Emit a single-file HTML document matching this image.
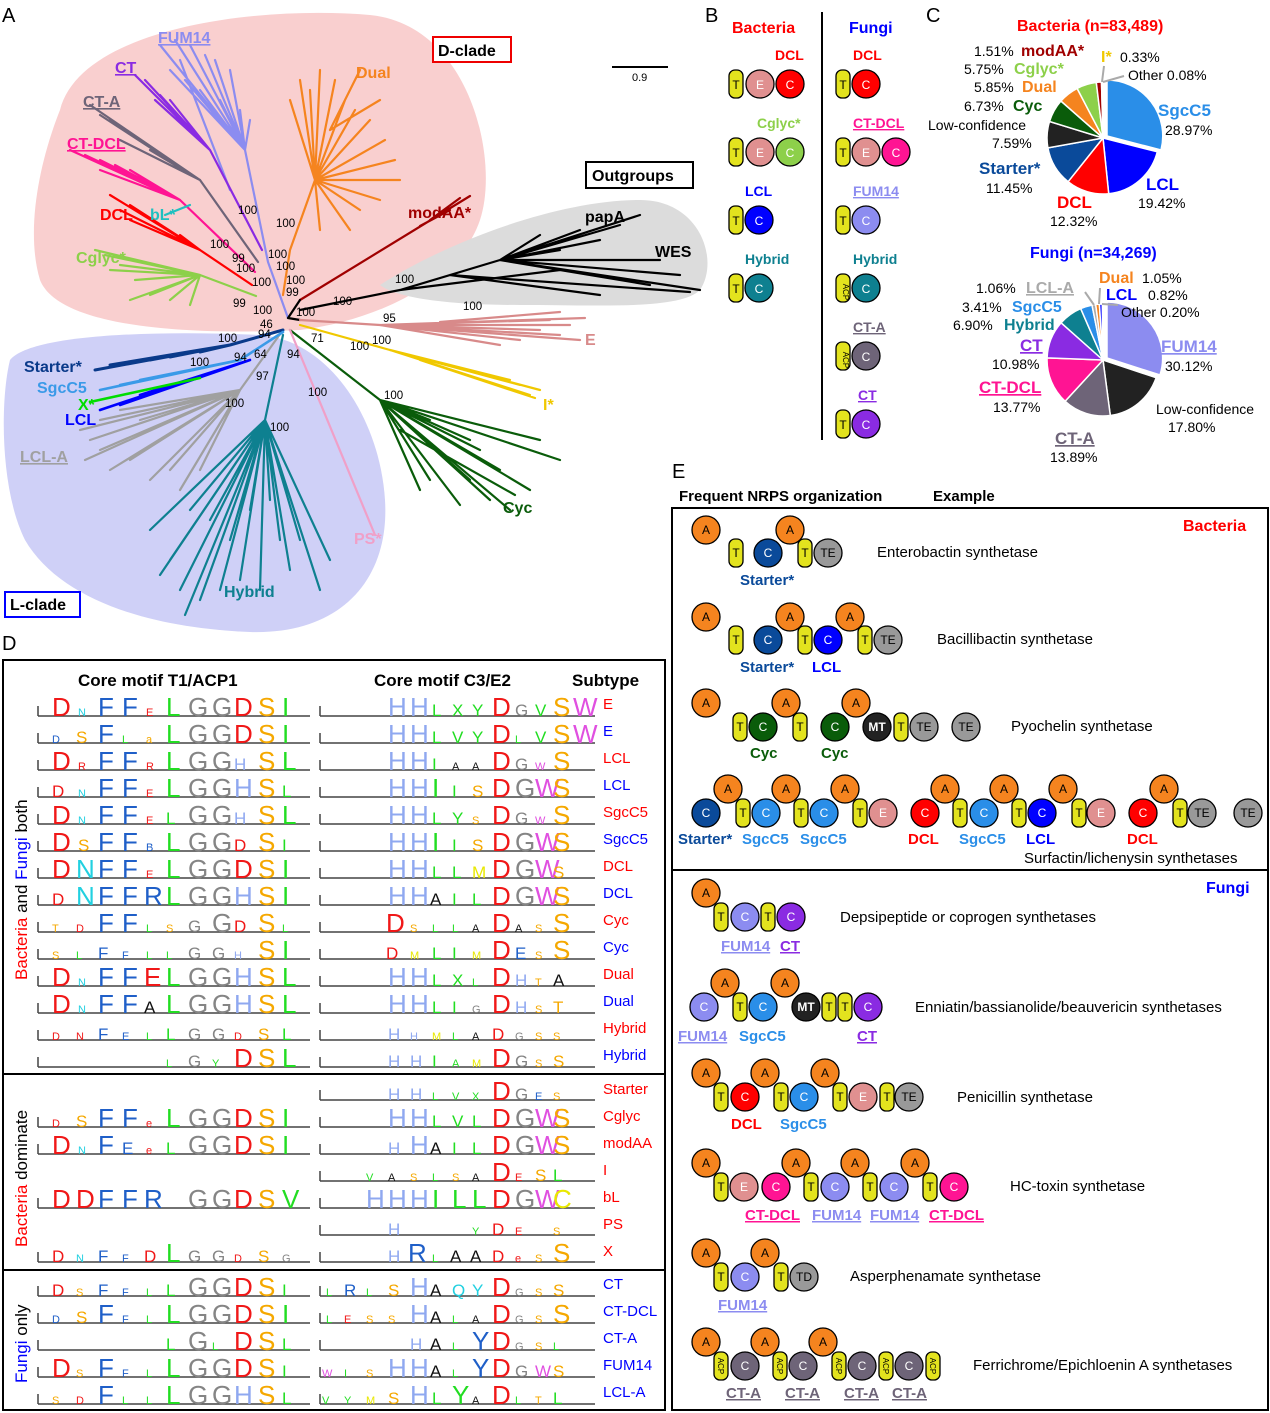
<!DOCTYPE html>
<html><head><meta charset="utf-8"><style>
html,body{margin:0;padding:0;background:#fff}
svg{display:block;font-family:"Liberation Sans",sans-serif}
.a{fill:#f5841f;stroke:#000;stroke-width:1.3}
.t{fill:#e3e31e;stroke:#000;stroke-width:1.3}
.lg text{font-size:26px}
.r{fill:#f01818}.b{fill:#1f5fc8}.g{fill:#858585}.o{fill:#f5a800}.l{fill:#22dd22}.h{fill:#8fa8f0}.m{fill:#e050e0}.k{fill:#111}.c{fill:#22d0e0}.y{fill:#e8e800}
.s{font-size:11px}.M{font-size:17px}
.bs{font-size:11.5px}
.cl{font-weight:bold;font-size:16px}
.pl{font-size:14px}
</style></head><body>
<svg width="1270" height="1413" viewBox="0 0 1270 1413" xmlns="http://www.w3.org/2000/svg">
<!-- Panel letters -->
<g font-size="20"><text x="2" y="22">A</text><text x="705" y="22">B</text><text x="926" y="22">C</text><text x="2" y="650">D</text><text x="672" y="478">E</text></g>

<!-- ===== Panel A tree ===== -->
<path d="M60,110 C80,30 250,5 370,15 C470,25 500,160 480,220 C460,280 380,320 300,330 C200,335 60,330 40,280 C25,230 40,160 60,110Z" fill="#f9cfcf"/>
<path d="M380,285 C450,240 560,200 640,200 C700,200 720,260 700,290 C680,310 600,305 520,305 C460,305 400,300 380,285Z" fill="#dcdcdc"/>
<path d="M10,360 C30,335 150,330 260,335 C330,340 380,420 385,500 C390,580 340,635 250,632 C150,628 60,600 25,540 C0,490 0,400 10,360Z" fill="#cfd0f7"/>

<g fill="none" stroke-width="2.2" stroke-linecap="round">
<path stroke="#8c8cf0" d="M288,318L268,262L245,150 M245,150L160,45M245,150L175,40M245,150L190,45M245,150L205,55M245,150L215,60M245,150L230,70M245,150L200,90M245,150L185,80M245,150L170,70M245,150L220,100M245,150L240,110M245,150L250,120M230,190L180,60"/>
<path stroke="#8a2be2" d="M262,250L210,150 M210,150L135,75M210,150L145,80M210,150L150,90M210,150L160,95M210,150L170,100M210,150L155,100"/>
<path stroke="#6e6478" d="M258,262L200,180 M200,180L90,105M200,180L100,115M200,180L110,120M200,180L125,130M200,180L140,140M200,180L150,150M200,180L120,140"/>
<path stroke="#ff1493" d="M255,272L180,200 M180,200L70,150M180,200L85,155M180,200L100,160M180,200L115,165M180,200L130,170M180,200L100,170"/>
<path stroke="#ff0000" d="M252,285L200,250 M200,250L110,195M200,250L130,205M200,250L145,215M200,250L160,225M200,250L180,235M200,250L130,220M200,250L120,210"/>
<path stroke="#20c0c0" d="M165,215L190,205"/>
<path stroke="#8dd04a" d="M256,296L200,275 M200,275L105,255M200,275L120,265M200,275L135,280M200,275L150,295M200,275L170,300M200,275L190,305M200,275L130,300M200,275L110,270M200,275L95,250"/>
<path stroke="#f5841f" d="M283,295L290,250L315,180 M315,180L290,100M315,180L300,80M315,180L320,70M315,180L335,80M315,180L345,100M315,180L355,110M315,180L370,120M315,180L385,140M315,180L395,160M315,180L400,180M315,180L380,200M315,180L360,210M315,180L350,230M315,180L320,230M315,180L310,90M330,130L380,100M330,130L360,70"/>
<path stroke="#a00000" d="M300,300L470,196M420,226L450,210M430,220L460,198"/>
<path stroke="#000" d="M288,318L300,300M288,318L300,320M300,310L400,290L500,260 M500,260L640,215M500,260L620,225M500,260L600,240M500,260L660,260M500,260L680,275M500,260L700,290M500,260L650,285M500,260L560,250M500,260L540,235M500,260L580,230M450,275L600,295M450,275L690,292M400,290L560,270"/>
<path stroke="#d88a8a" d="M300,320L380,325 M380,325L585,318M380,325L570,325M380,325L560,335M380,325L540,330M380,325L520,340M380,325L500,345M380,325L580,340M380,325L550,320M440,322L560,312"/>
<path stroke="#f0c800" d="M300,325L390,350 M390,350L540,390M390,350L530,395M390,350L520,385M390,350L510,380M390,350L500,378M420,360L535,398"/>
<path stroke="#0a5c0a" d="M290,330L380,400 M380,400L450,460M380,400L470,480M380,400L490,500M380,400L510,510M380,400L530,490M380,400L560,460M380,400L540,440M380,400L500,470M380,400L480,450M380,400L470,440M380,400L430,420M380,400L420,490M380,400L430,480M400,430L515,495M380,400L460,505"/>
<path stroke="#f0a0c8" d="M290,330L375,535"/>
<path stroke="#0e8090" d="M283,335L265,420 M265,420L150,530M265,420L170,560M265,420L180,590M265,420L200,600M265,420L220,590M265,420L240,580M265,420L260,590M265,420L290,570M265,420L320,590M265,420L330,560M265,420L300,540M265,420L280,540M265,420L230,540M265,420L190,510M265,420L210,520M265,420L250,510M265,420L270,500M265,420L185,615M265,420L160,575"/>
<path stroke="#a0a0a0" d="M283,330L240,390 M240,390L80,430M240,390L90,440M240,390L100,450M240,390L110,470M240,390L130,460M240,390L150,480M240,390L170,470M240,390L180,490M240,390L200,470M240,390L140,420M240,390L120,410M240,390L100,420M240,390L85,460"/>
<path stroke="#0a3a8a" stroke-width="3" d="M283,330L230,345 M230,345L95,370M230,345L110,365M230,345L130,362M230,345L150,360M230,345L170,357M230,345L200,352"/>
<path stroke="#3a9ae8" stroke-width="2.6" d="M283,332L240,360 M240,360L100,390M240,360L120,385M240,360L140,380M240,360L170,375"/>
<path stroke="#0000ff" stroke-width="2.6" d="M250,360L100,410M250,360L120,405M250,360L140,395"/>
<path stroke="#00dd00" stroke-width="2.6" d="M200,378L90,402"/>
</g>
<g class="bs" fill="#000">
<text x="238" y="214">100</text><text x="276" y="227">100</text><text x="210" y="248">100</text><text x="232" y="262">99</text><text x="268" y="258">100</text><text x="236" y="272">100</text><text x="276" y="270">100</text><text x="252" y="286">100</text><text x="286" y="284">100</text><text x="286" y="296">99</text><text x="233" y="307">99</text><text x="253" y="314">100</text><text x="296" y="316">100</text><text x="260" y="328">46</text><text x="258" y="338">94</text><text x="218" y="342">100</text><text x="234" y="361">94</text><text x="254" y="358">64</text><text x="287" y="358">94</text><text x="311" y="342">71</text><text x="190" y="366">100</text><text x="256" y="380">97</text><text x="225" y="407">100</text><text x="270" y="431">100</text><text x="308" y="396">100</text><text x="333" y="305">100</text><text x="383" y="322">95</text><text x="395" y="283">100</text><text x="463" y="310">100</text><text x="350" y="350">100</text><text x="372" y="344">100</text><text x="384" y="399">100</text>
</g>
<g class="cl">
<text x="158" y="43" fill="#8c8cf0" text-decoration="underline">FUM14</text>
<text x="115" y="73" fill="#8a2be2" text-decoration="underline">CT</text>
<text x="83" y="107" fill="#6e6478" text-decoration="underline">CT-A</text>
<text x="67" y="149" fill="#ff1493" text-decoration="underline">CT-DCL</text>
<text x="100" y="220" fill="#ff0000">DCL</text><text x="150" y="220" fill="#20c0c0">bL*</text>
<text x="76" y="263" fill="#8dd04a">Cglyc*</text>
<text x="356" y="78" fill="#f5841f">Dual</text>
<text x="408" y="218" fill="#a00000">modAA*</text>
<text x="585" y="222" fill="#000">papA</text><text x="655" y="257" fill="#000">WES</text>
<text x="585" y="345" fill="#d88a8a">E</text>
<text x="543" y="410" fill="#f0c800">I*</text>
<text x="503" y="513" fill="#0a5c0a">Cyc</text>
<text x="354" y="544" fill="#f0a0c8">PS*</text>
<text x="224" y="597" fill="#0e8090">Hybrid</text>
<text x="20" y="462" fill="#a0a0a0" text-decoration="underline">LCL-A</text>
<text x="24" y="372" fill="#0a3a8a">Starter*</text>
<text x="37" y="393" fill="#3a9ae8">SgcC5</text>
<text x="78" y="410" fill="#00dd00">X*</text>
<text x="65" y="425" fill="#0000ff">LCL</text>
</g>
<rect x="433" y="37" width="78" height="25" fill="#fff" stroke="#e00" stroke-width="2"/><text x="438" y="56" class="cl">D-clade</text>
<rect x="586" y="162" width="107" height="26" fill="#fff" stroke="#000" stroke-width="2"/><text x="592" y="181" class="cl">Outgroups</text>
<rect x="5" y="592" width="75" height="25" fill="#fff" stroke="#00f" stroke-width="2"/><text x="10" y="610" class="cl">L-clade</text>
<line x1="612" y1="67" x2="668" y2="67" stroke="#000" stroke-width="2"/><text x="632" y="81" font-size="11">0.9</text>

<!-- ===== Panel B ===== -->
<line x1="822" y1="12" x2="822" y2="440" stroke="#000" stroke-width="2"/>
<text x="732" y="33" fill="#f00" class="cl" font-size="17">Bacteria</text>
<text x="849" y="33" fill="#00f" class="cl" font-size="17">Fungi</text>
<g font-size="14" font-weight="bold">
<text x="775" y="60" fill="#f00">DCL</text><text x="757" y="128" fill="#8dd04a">Cglyc*</text><text x="745" y="196" fill="#00f">LCL</text><text x="745" y="264" fill="#0e8090">Hybrid</text>
<text x="853" y="60" fill="#f00">DCL</text><text x="853" y="128" fill="#ff1493" text-decoration="underline">CT-DCL</text><text x="853" y="196" fill="#8c8cf0" text-decoration="underline">FUM14</text><text x="853" y="264" fill="#0e8090">Hybrid</text><text x="853" y="332" fill="#6e6478" text-decoration="underline">CT-A</text><text x="858" y="400" fill="#8a2be2" text-decoration="underline">CT</text>
</g>
<g stroke="#000" stroke-width="1.3" font-size="12" text-anchor="middle">
<rect x="729" y="70" width="14" height="28" rx="6" class="t"/><circle cx="760" cy="84" r="14" fill="#e09090"/><circle cx="790" cy="84" r="14" fill="#f00"/>
<rect x="729" y="138" width="14" height="28" rx="6" class="t"/><circle cx="760" cy="152" r="14" fill="#e09090"/><circle cx="790" cy="152" r="14" fill="#8dd04a"/>
<rect x="729" y="206" width="14" height="28" rx="6" class="t"/><circle cx="759" cy="220" r="14" fill="#00f"/>
<rect x="729" y="274" width="14" height="28" rx="6" class="t"/><circle cx="759" cy="288" r="14" fill="#0e8090"/>
<rect x="836" y="70" width="14" height="28" rx="6" class="t"/><circle cx="866" cy="84" r="14" fill="#f00"/>
<rect x="836" y="138" width="14" height="28" rx="6" class="t"/><circle cx="866" cy="152" r="14" fill="#e09090"/><circle cx="896" cy="152" r="14" fill="#ff1493"/>
<rect x="836" y="206" width="14" height="28" rx="6" class="t"/><circle cx="866" cy="220" r="14" fill="#8c8cf0"/>
<rect x="836" y="274" width="14" height="28" rx="6" class="t"/><circle cx="866" cy="288" r="14" fill="#0e8090"/>
<rect x="836" y="342" width="14" height="28" rx="6" class="t"/><circle cx="866" cy="356" r="14" fill="#6e6478"/>
<rect x="836" y="410" width="14" height="28" rx="6" class="t"/><circle cx="866" cy="424" r="14" fill="#8a2be2"/>
</g>
<g font-size="12" fill="#fff" text-anchor="middle">
<text x="736" y="89" fill="#000">T</text><text x="760" y="89">E</text><text x="790" y="89">C</text>
<text x="736" y="157" fill="#000">T</text><text x="760" y="157">E</text><text x="790" y="157">C</text>
<text x="736" y="225" fill="#000">T</text><text x="759" y="225">C</text>
<text x="736" y="293" fill="#000">T</text><text x="759" y="293">C</text>
<text x="843" y="89" fill="#000">T</text><text x="866" y="89">C</text>
<text x="843" y="157" fill="#000">T</text><text x="866" y="157">E</text><text x="896" y="157">C</text>
<text x="843" y="225" fill="#000">T</text><text x="866" y="225">C</text>
<text x="847" y="288" fill="#000" font-size="8" transform="rotate(90 843 288)">ACP</text><text x="866" y="293">C</text>
<text x="847" y="356" fill="#000" font-size="8" transform="rotate(90 843 356)">ACP</text><text x="866" y="361">C</text>
<text x="843" y="429" fill="#000">T</text><text x="866" y="429">C</text>
</g>

<!-- ===== Panel C ===== -->
<text x="1017" y="31" fill="#f00" class="cl" font-size="17">Bacteria (n=83,489)</text>
<g stroke="#fff" stroke-width="1.5">
<path d="M1107,136L1107,80A56,56 0 0 1 1161,150Z" fill="#2a8ee8"/>
<path d="M1103,138L1157.3,151.8A56,56 0 0 1 1108.7,193.7Z" fill="#0000ff"/>
<path d="M1103,138L1108.7,193.7A56,56 0 0 1 1068.1,181.7Z" fill="#f00"/>
<path d="M1103,138L1068.1,181.7A56,56 0 0 1 1047.9,147.9Z" fill="#0a4a9a"/>
<path d="M1103,138L1047.9,147.9A56,56 0 0 1 1049.5,121.5Z" fill="#222"/>
<path d="M1103,138L1049.5,121.5A56,56 0 0 1 1060.9,101Z" fill="#0a5c0a"/>
<path d="M1103,138L1060.9,101A56,56 0 0 1 1077.1,88.4Z" fill="#f5841f"/>
<path d="M1103,138L1077.1,88.4A56,56 0 0 1 1096.3,82.4Z" fill="#8dd04a"/>
<path d="M1103,138L1096.3,82.4A56,56 0 0 1 1101.5,82Z" fill="#a00000"/>
<path d="M1103,138L1101.5,82A56,56 0 0 1 1103,82Z" fill="#f0c800"/>
</g>
<g class="pl">
<text x="974" y="56">1.51%</text><text x="1021" y="56" fill="#a00000" font-weight="bold" font-size="16">modAA*</text>
<text x="964" y="74">5.75%</text><text x="1014" y="74" fill="#8dd04a" font-weight="bold" font-size="16">Cglyc*</text>
<text x="974" y="92">5.85%</text><text x="1022" y="92" fill="#f5841f" font-weight="bold" font-size="16">Dual</text>
<text x="964" y="111">6.73%</text><text x="1013" y="111" fill="#0a5c0a" font-weight="bold" font-size="16">Cyc</text>
<text x="928" y="130">Low-confidence</text><text x="992" y="148">7.59%</text>
<text x="979" y="174" fill="#0a4a9a" font-weight="bold" font-size="17">Starter*</text><text x="986" y="193">11.45%</text>
<text x="1057" y="208" fill="#f00" font-weight="bold" font-size="17">DCL</text><text x="1050" y="226">12.32%</text>
<text x="1146" y="190" fill="#00f" font-weight="bold" font-size="17">LCL</text><text x="1138" y="208">19.42%</text>
<text x="1158" y="116" fill="#2a8ee8" font-weight="bold" font-size="17">SgcC5</text><text x="1165" y="135">28.97%</text>
<text x="1101" y="62" fill="#f0c800" font-weight="bold" font-size="16">I*</text><text x="1120" y="62">0.33%</text>
<text x="1128" y="80">Other  0.08%</text>
</g>
<g stroke="#aaa" stroke-width="2"><line x1="1102" y1="82" x2="1104" y2="66"/><line x1="1103" y1="82" x2="1124" y2="76"/></g>

<text x="1030" y="258" fill="#00f" class="cl" font-size="17">Fungi (n=34,269)</text>
<g stroke="#fff" stroke-width="1.5">
<path d="M1107,358L1107,302A56,56 0 0 1 1160,375Z" fill="#8c8cf0"/>
<path d="M1103,360L1156.1,377.7A56,56 0 0 1 1110.3,415.5Z" fill="#222"/>
<path d="M1103,360L1110.3,415.5A56,56 0 0 1 1065.1,401.3Z" fill="#6e6478"/>
<path d="M1103,360L1065.1,401.3A56,56 0 0 1 1047.1,357.9Z" fill="#ff1493"/>
<path d="M1103,360L1047.1,357.9A56,56 0 0 1 1061.1,322.8Z" fill="#8a2be2"/>
<path d="M1103,360L1061.1,322.8A56,56 0 0 1 1080.7,308.6Z" fill="#0e8090"/>
<path d="M1103,360L1080.7,308.6A56,56 0 0 1 1092,305.1Z" fill="#2a8ee8"/>
<path d="M1103,360L1092,305.1A56,56 0 0 1 1095.7,304.5Z" fill="#aaa"/>
<path d="M1103,360L1095.7,304.5A56,56 0 0 1 1099.4,304.1Z" fill="#f5841f"/>
<path d="M1103,360L1099.4,304.1A56,56 0 0 1 1102.3,304Z" fill="#00f"/>
</g>
<g stroke="#aaa" stroke-width="2"><line x1="1094" y1="305" x2="1085" y2="292"/><line x1="1099" y1="304" x2="1100" y2="288"/><line x1="1102" y1="304" x2="1118" y2="305"/></g>
<g class="pl">
<text x="1099" y="283" fill="#f5841f" font-weight="bold" font-size="16">Dual</text><text x="1142" y="283">1.05%</text>
<text x="976" y="293">1.06%</text><text x="1026" y="293" fill="#aaa" font-weight="bold" font-size="16" text-decoration="underline">LCL-A</text>
<text x="1106" y="300" fill="#00f" font-weight="bold" font-size="16">LCL</text><text x="1148" y="300">0.82%</text>
<text x="962" y="312">3.41%</text><text x="1012" y="312" fill="#2a8ee8" font-weight="bold" font-size="16">SgcC5</text>
<text x="1121" y="317">Other 0.20%</text>
<text x="953" y="330">6.90%</text><text x="1004" y="330" fill="#0e8090" font-weight="bold" font-size="16">Hybrid</text>
<text x="1020" y="351" fill="#8a2be2" font-weight="bold" font-size="17" text-decoration="underline">CT</text><text x="992" y="369">10.98%</text>
<text x="979" y="393" fill="#ff1493" font-weight="bold" font-size="17" text-decoration="underline">CT-DCL</text><text x="993" y="412">13.77%</text>
<text x="1055" y="444" fill="#6e6478" font-weight="bold" font-size="17" text-decoration="underline">CT-A</text><text x="1050" y="462">13.89%</text>
<text x="1161" y="352" fill="#8c8cf0" font-weight="bold" font-size="17" text-decoration="underline">FUM14</text><text x="1165" y="371">30.12%</text>
<text x="1156" y="414">Low-confidence</text><text x="1168" y="432">17.80%</text>
</g>

<!-- ===== Panel D ===== -->
<rect x="3" y="660" width="662" height="750" fill="none" stroke="#000" stroke-width="2"/>
<line x1="3" y1="1074" x2="665" y2="1074" stroke="#000" stroke-width="2"/>
<line x1="3" y1="1270" x2="665" y2="1270" stroke="#000" stroke-width="2"/>
<g font-weight="bold" font-size="17"><text x="78" y="686">Core motif T1/ACP1</text><text x="374" y="686">Core motif C3/E2</text><text x="572" y="686">Subtype</text></g>
<g font-size="17">
<text transform="translate(27 980) rotate(-90)"><tspan fill="#f00">Bacteria</tspan> and <tspan fill="#00f">Fungi</tspan> both</text>
<text transform="translate(27 1247) rotate(-90)"><tspan fill="#f00">Bacteria</tspan> dominate</text>
<text transform="translate(27 1383) rotate(-90)"><tspan fill="#00f">Fungi</tspan> only</text>
</g>
<!-- axes -->
<g stroke="#444" stroke-width="1.5" fill="none">
<path d="M38,716H310M38,706V716M320,716H595M320,706V716 M38,743H310M38,733V743M320,743H595M320,733V743 M38,770H310M38,760V770M320,770H595M320,760V770 M38,797H310M38,787V797M320,797H595M320,787V797 M38,824H310M38,814V824M320,824H595M320,814V824 M38,851H310M38,841V851M320,851H595M320,841V851 M38,878H310M38,868V878M320,878H595M320,868V878 M38,905H310M38,895V905M320,905H595M320,895V905 M38,932H310M38,922V932M320,932H595M320,922V932 M38,959H310M38,949V959M320,959H595M320,949V959 M38,986H310M38,976V986M320,986H595M320,976V986 M38,1013H310M38,1003V1013M320,1013H595M320,1003V1013 M38,1040H310M38,1030V1040M320,1040H595M320,1030V1040 M38,1067H310M38,1057V1067M320,1067H595M320,1057V1067
M320,1100H595M320,1090V1100 M38,1127H310M38,1117V1127M320,1127H595M320,1117V1127 M38,1154H310M38,1144V1154M320,1154H595M320,1144V1154 M320,1181H595M320,1171V1181 M38,1208H310M38,1198V1208M320,1208H595M320,1198V1208 M320,1235H595M320,1225V1235 M38,1262H310M38,1252V1262M320,1262H595M320,1252V1262
M38,1296H310M38,1286V1296M320,1296H595M320,1286V1296 M38,1323H310M38,1313V1323M320,1323H595M320,1313V1323 M38,1350H310M38,1340V1350M320,1350H595M320,1340V1350 M38,1377H310M38,1367V1377M320,1377H595M320,1367V1377 M38,1404H310M38,1394V1404M320,1404H595M320,1394V1404"/>
</g>
<g class="lg">
<!-- E red -->
<text y="716"><tspan x="52" class="r">D</tspan><tspan x="78" class="c s">N</tspan><tspan x="98" class="b">F</tspan><tspan x="122" class="b">F</tspan><tspan x="146" class="r s">E</tspan><tspan x="166" class="l">L</tspan><tspan x="188" class="g">G</tspan><tspan x="212" class="g">G</tspan><tspan x="234" class="r">D</tspan><tspan x="258" class="o">S</tspan><tspan x="282" class="l">I</tspan>
<tspan x="388" class="h">H</tspan><tspan x="410" class="h">H</tspan><tspan x="432" class="l M">L</tspan><tspan x="452" class="l M">X</tspan><tspan x="472" class="l M">Y</tspan><tspan x="492" class="r">D</tspan><tspan x="515" class="g M">G</tspan><tspan x="535" class="l M">V</tspan><tspan x="553" class="o">S</tspan><tspan x="573" class="m">W</tspan></text>
<text y="743"><tspan x="52" class="b s">D</tspan><tspan x="76" class="o M">S</tspan><tspan x="98" class="b">F</tspan><tspan x="122" class="l s">L</tspan><tspan x="146" class="o s">a</tspan><tspan x="166" class="l">L</tspan><tspan x="188" class="g">G</tspan><tspan x="212" class="g">G</tspan><tspan x="234" class="r">D</tspan><tspan x="258" class="o">S</tspan><tspan x="282" class="l">I</tspan>
<tspan x="388" class="h">H</tspan><tspan x="410" class="h">H</tspan><tspan x="432" class="l M">L</tspan><tspan x="452" class="l M">V</tspan><tspan x="472" class="l M">Y</tspan><tspan x="492" class="r">D</tspan><tspan x="515" class="l s">L</tspan><tspan x="535" class="l M">V</tspan><tspan x="553" class="o">S</tspan><tspan x="573" class="m">W</tspan></text>
<text y="770"><tspan x="52" class="r">D</tspan><tspan x="78" class="r s">R</tspan><tspan x="98" class="b">F</tspan><tspan x="122" class="b">F</tspan><tspan x="146" class="r s">R</tspan><tspan x="166" class="l">L</tspan><tspan x="188" class="g">G</tspan><tspan x="212" class="g">G</tspan><tspan x="234" class="h M">H</tspan><tspan x="258" class="o">S</tspan><tspan x="282" class="l">L</tspan>
<tspan x="388" class="h">H</tspan><tspan x="410" class="h">H</tspan><tspan x="432" class="l M">I</tspan><tspan x="452" class="k s">A</tspan><tspan x="472" class="k s">A</tspan><tspan x="492" class="r">D</tspan><tspan x="515" class="g M">G</tspan><tspan x="535" class="m s">W</tspan><tspan x="553" class="o">S</tspan></text>
<text y="797"><tspan x="52" class="r M">D</tspan><tspan x="78" class="c s">N</tspan><tspan x="98" class="b">F</tspan><tspan x="122" class="b">F</tspan><tspan x="146" class="r s">E</tspan><tspan x="166" class="l">L</tspan><tspan x="188" class="g">G</tspan><tspan x="212" class="g">G</tspan><tspan x="234" class="h">H</tspan><tspan x="258" class="o">S</tspan><tspan x="282" class="l M">L</tspan>
<tspan x="388" class="h">H</tspan><tspan x="410" class="h">H</tspan><tspan x="432" class="l">I</tspan><tspan x="452" class="l M">I</tspan><tspan x="472" class="o M">S</tspan><tspan x="492" class="r">D</tspan><tspan x="515" class="g">G</tspan><tspan x="535" class="m">W</tspan><tspan x="553" class="o">S</tspan></text>
<text y="824"><tspan x="52" class="r">D</tspan><tspan x="78" class="c s">N</tspan><tspan x="98" class="b">F</tspan><tspan x="122" class="b">F</tspan><tspan x="146" class="r s">E</tspan><tspan x="166" class="l M">L</tspan><tspan x="188" class="g">G</tspan><tspan x="212" class="g">G</tspan><tspan x="234" class="h M">H</tspan><tspan x="258" class="o">S</tspan><tspan x="282" class="l">L</tspan>
<tspan x="388" class="h">H</tspan><tspan x="410" class="h">H</tspan><tspan x="432" class="l M">L</tspan><tspan x="452" class="l M">Y</tspan><tspan x="472" class="o s">S</tspan><tspan x="492" class="r">D</tspan><tspan x="515" class="g M">G</tspan><tspan x="535" class="m s">W</tspan><tspan x="553" class="o">S</tspan></text>
<text y="851"><tspan x="52" class="r">D</tspan><tspan x="78" class="o M">S</tspan><tspan x="98" class="b">F</tspan><tspan x="122" class="b">F</tspan><tspan x="146" class="b s">B</tspan><tspan x="166" class="l">L</tspan><tspan x="188" class="g">G</tspan><tspan x="212" class="g">G</tspan><tspan x="234" class="r M">D</tspan><tspan x="258" class="o">S</tspan><tspan x="282" class="l M">I</tspan>
<tspan x="388" class="h">H</tspan><tspan x="410" class="h">H</tspan><tspan x="432" class="l">I</tspan><tspan x="452" class="l M">I</tspan><tspan x="472" class="o M">S</tspan><tspan x="492" class="r">D</tspan><tspan x="515" class="g">G</tspan><tspan x="535" class="m">W</tspan><tspan x="553" class="o">S</tspan></text>
<text y="878"><tspan x="52" class="r">D</tspan><tspan x="76" class="c">N</tspan><tspan x="98" class="b">F</tspan><tspan x="122" class="b">F</tspan><tspan x="146" class="r s">E</tspan><tspan x="166" class="l">L</tspan><tspan x="188" class="g">G</tspan><tspan x="212" class="g">G</tspan><tspan x="234" class="r">D</tspan><tspan x="258" class="o">S</tspan><tspan x="282" class="l">I</tspan>
<tspan x="388" class="h">H</tspan><tspan x="410" class="h">H</tspan><tspan x="432" class="l M">L</tspan><tspan x="452" class="l M">L</tspan><tspan x="472" class="y M">M</tspan><tspan x="492" class="r">D</tspan><tspan x="515" class="g">G</tspan><tspan x="535" class="m">W</tspan><tspan x="553" class="o M">S</tspan></text>
<text y="905"><tspan x="52" class="r M">D</tspan><tspan x="76" class="c">N</tspan><tspan x="98" class="b">F</tspan><tspan x="122" class="b">F</tspan><tspan x="144" class="b">R</tspan><tspan x="166" class="l">L</tspan><tspan x="188" class="g">G</tspan><tspan x="212" class="g">G</tspan><tspan x="234" class="h">H</tspan><tspan x="258" class="o">S</tspan><tspan x="282" class="l">I</tspan>
<tspan x="388" class="h">H</tspan><tspan x="410" class="h">H</tspan><tspan x="430" class="k M">A</tspan><tspan x="452" class="l M">I</tspan><tspan x="472" class="l M">L</tspan><tspan x="492" class="r">D</tspan><tspan x="515" class="g">G</tspan><tspan x="535" class="m">W</tspan><tspan x="553" class="o">S</tspan></text>
<text y="932"><tspan x="52" class="o s">T</tspan><tspan x="76" class="r s">D</tspan><tspan x="98" class="b">F</tspan><tspan x="122" class="b">F</tspan><tspan x="146" class="l s">L</tspan><tspan x="166" class="o s">S</tspan><tspan x="188" class="g M">G</tspan><tspan x="212" class="g">G</tspan><tspan x="234" class="r M">D</tspan><tspan x="258" class="o">S</tspan><tspan x="282" class="l s">L</tspan>
<tspan x="386" class="r">D</tspan><tspan x="410" class="o s">S</tspan><tspan x="432" class="l s">L</tspan><tspan x="452" class="l s">L</tspan><tspan x="472" class="k s">A</tspan><tspan x="492" class="r">D</tspan><tspan x="515" class="k s">A</tspan><tspan x="535" class="o s">S</tspan><tspan x="553" class="o">S</tspan></text>
<text y="959"><tspan x="52" class="o s">S</tspan><tspan x="76" class="l s">L</tspan><tspan x="98" class="b M">F</tspan><tspan x="122" class="b s">F</tspan><tspan x="146" class="l s">L</tspan><tspan x="166" class="l s">L</tspan><tspan x="188" class="g M">G</tspan><tspan x="212" class="g M">G</tspan><tspan x="234" class="h s">H</tspan><tspan x="258" class="o">S</tspan><tspan x="282" class="l">I</tspan>
<tspan x="386" class="r M">D</tspan><tspan x="410" class="y s">M</tspan><tspan x="432" class="l M">L</tspan><tspan x="452" class="l M">I</tspan><tspan x="472" class="y s">M</tspan><tspan x="492" class="r">D</tspan><tspan x="515" class="b M">E</tspan><tspan x="535" class="o s">S</tspan><tspan x="553" class="o">S</tspan></text>
<text y="986"><tspan x="52" class="r">D</tspan><tspan x="78" class="c s">N</tspan><tspan x="98" class="b">F</tspan><tspan x="122" class="b">F</tspan><tspan x="144" class="r">E</tspan><tspan x="166" class="l">L</tspan><tspan x="188" class="g">G</tspan><tspan x="212" class="g">G</tspan><tspan x="234" class="h">H</tspan><tspan x="258" class="o">S</tspan><tspan x="282" class="l">L</tspan>
<tspan x="388" class="h">H</tspan><tspan x="410" class="h">H</tspan><tspan x="432" class="l M">L</tspan><tspan x="452" class="l M">X</tspan><tspan x="472" class="l s">L</tspan><tspan x="492" class="r">D</tspan><tspan x="515" class="h M">H</tspan><tspan x="535" class="o s">T</tspan><tspan x="553" class="k M">A</tspan></text>
<text y="1013"><tspan x="52" class="r">D</tspan><tspan x="78" class="c s">N</tspan><tspan x="98" class="b">F</tspan><tspan x="122" class="b">F</tspan><tspan x="144" class="k M">A</tspan><tspan x="166" class="l">L</tspan><tspan x="188" class="g">G</tspan><tspan x="212" class="g">G</tspan><tspan x="234" class="h">H</tspan><tspan x="258" class="o">S</tspan><tspan x="282" class="l">L</tspan>
<tspan x="388" class="h">H</tspan><tspan x="410" class="h">H</tspan><tspan x="432" class="l M">L</tspan><tspan x="452" class="l M">I</tspan><tspan x="472" class="g s">G</tspan><tspan x="492" class="r">D</tspan><tspan x="515" class="h M">H</tspan><tspan x="535" class="o s">S</tspan><tspan x="553" class="o M">T</tspan></text>
<text y="1040"><tspan x="52" class="r s">D</tspan><tspan x="76" class="r s">N</tspan><tspan x="98" class="b M">F</tspan><tspan x="122" class="b s">E</tspan><tspan x="146" class="l s">L</tspan><tspan x="166" class="l M">L</tspan><tspan x="188" class="g M">G</tspan><tspan x="212" class="g M">G</tspan><tspan x="234" class="r s">D</tspan><tspan x="258" class="o M">S</tspan><tspan x="282" class="l M">L</tspan>
<tspan x="388" class="h M">H</tspan><tspan x="410" class="h s">H</tspan><tspan x="432" class="y s">M</tspan><tspan x="452" class="l s">L</tspan><tspan x="472" class="k s">A</tspan><tspan x="492" class="r M">D</tspan><tspan x="515" class="g s">G</tspan><tspan x="535" class="o s">S</tspan><tspan x="553" class="o s">S</tspan></text>
<text y="1067"><tspan x="166" class="l s">L</tspan><tspan x="188" class="g M">G</tspan><tspan x="212" class="l s">Y</tspan><tspan x="234" class="r">D</tspan><tspan x="258" class="o">S</tspan><tspan x="282" class="l">L</tspan>
<tspan x="388" class="h M">H</tspan><tspan x="410" class="h M">H</tspan><tspan x="432" class="l M">I</tspan><tspan x="452" class="l s">A</tspan><tspan x="472" class="y s">M</tspan><tspan x="492" class="r">D</tspan><tspan x="515" class="g M">G</tspan><tspan x="535" class="o s">S</tspan><tspan x="553" class="o M">S</tspan></text>
<!-- Bacteria dominate -->
<text y="1100"><tspan x="388" class="h M">H</tspan><tspan x="410" class="h M">H</tspan><tspan x="432" class="l s">L</tspan><tspan x="452" class="l s">V</tspan><tspan x="472" class="l s">X</tspan><tspan x="492" class="r">D</tspan><tspan x="515" class="g M">G</tspan><tspan x="535" class="b s">E</tspan><tspan x="553" class="o s">S</tspan></text>
<text y="1127"><tspan x="52" class="r s">D</tspan><tspan x="76" class="o M">S</tspan><tspan x="98" class="b">F</tspan><tspan x="122" class="b">F</tspan><tspan x="146" class="r s">e</tspan><tspan x="166" class="l">L</tspan><tspan x="188" class="g">G</tspan><tspan x="212" class="g">G</tspan><tspan x="234" class="r">D</tspan><tspan x="258" class="o">S</tspan><tspan x="282" class="l">I</tspan>
<tspan x="388" class="h">H</tspan><tspan x="410" class="h">H</tspan><tspan x="432" class="l M">L</tspan><tspan x="452" class="l M">V</tspan><tspan x="472" class="l M">L</tspan><tspan x="492" class="r">D</tspan><tspan x="515" class="g">G</tspan><tspan x="535" class="m">W</tspan><tspan x="553" class="o">S</tspan></text>
<text y="1154"><tspan x="52" class="r">D</tspan><tspan x="78" class="c s">N</tspan><tspan x="98" class="b">F</tspan><tspan x="122" class="b M">E</tspan><tspan x="146" class="r s">e</tspan><tspan x="166" class="l M">L</tspan><tspan x="188" class="g">G</tspan><tspan x="212" class="g">G</tspan><tspan x="234" class="r">D</tspan><tspan x="258" class="o">S</tspan><tspan x="282" class="l">I</tspan>
<tspan x="388" class="h M">H</tspan><tspan x="410" class="h">H</tspan><tspan x="430" class="k M">A</tspan><tspan x="452" class="l M">I</tspan><tspan x="472" class="l M">L</tspan><tspan x="492" class="r">D</tspan><tspan x="515" class="g">G</tspan><tspan x="535" class="m">W</tspan><tspan x="553" class="o">S</tspan></text>
<text y="1181"><tspan x="366" class="l s">V</tspan><tspan x="388" class="k s">A</tspan><tspan x="410" class="o s">S</tspan><tspan x="432" class="l s">L</tspan><tspan x="452" class="o s">S</tspan><tspan x="472" class="k s">A</tspan><tspan x="492" class="r">D</tspan><tspan x="515" class="r s">E</tspan><tspan x="535" class="o M">S</tspan><tspan x="553" class="l M">L</tspan></text>
<text y="1208"><tspan x="52" class="r">D</tspan><tspan x="76" class="r">D</tspan><tspan x="98" class="b">F</tspan><tspan x="122" class="b">F</tspan><tspan x="144" class="b">R</tspan><tspan x="188" class="g">G</tspan><tspan x="212" class="g">G</tspan><tspan x="234" class="r">D</tspan><tspan x="258" class="o">S</tspan><tspan x="282" class="l">V</tspan>
<tspan x="366" class="h">H</tspan><tspan x="388" class="h">H</tspan><tspan x="410" class="h">H</tspan><tspan x="432" class="l">I</tspan><tspan x="452" class="l">L</tspan><tspan x="472" class="l">L</tspan><tspan x="492" class="r">D</tspan><tspan x="515" class="g">G</tspan><tspan x="535" class="m">W</tspan><tspan x="553" class="y">C</tspan></text>
<text y="1235"><tspan x="388" class="h M">H</tspan><tspan x="472" class="l s">Y</tspan><tspan x="492" class="r M">D</tspan><tspan x="515" class="r s">E</tspan><tspan x="553" class="o s">S</tspan></text>
<text y="1262"><tspan x="52" class="r M">D</tspan><tspan x="76" class="c s">N</tspan><tspan x="98" class="b M">F</tspan><tspan x="122" class="b s">F</tspan><tspan x="144" class="r M">D</tspan><tspan x="166" class="l">L</tspan><tspan x="188" class="g M">G</tspan><tspan x="212" class="g M">G</tspan><tspan x="234" class="r s">D</tspan><tspan x="258" class="o M">S</tspan><tspan x="282" class="g s">G</tspan>
<tspan x="388" class="h M">H</tspan><tspan x="408" class="b">R</tspan><tspan x="432" class="l s">L</tspan><tspan x="450" class="k M">A</tspan><tspan x="470" class="k M">A</tspan><tspan x="492" class="r M">D</tspan><tspan x="515" class="r s">e</tspan><tspan x="535" class="o s">S</tspan><tspan x="553" class="o">S</tspan></text>
<!-- Fungi only -->
<text y="1296"><tspan x="52" class="r M">D</tspan><tspan x="76" class="o s">S</tspan><tspan x="98" class="b M">F</tspan><tspan x="122" class="b s">F</tspan><tspan x="146" class="l s">L</tspan><tspan x="166" class="l M">L</tspan><tspan x="188" class="g">G</tspan><tspan x="212" class="g">G</tspan><tspan x="234" class="r">D</tspan><tspan x="258" class="o">S</tspan><tspan x="282" class="l M">I</tspan>
<tspan x="326" class="l s">L</tspan><tspan x="344" class="b M">R</tspan><tspan x="366" class="l s">L</tspan><tspan x="388" class="o M">S</tspan><tspan x="410" class="h">H</tspan><tspan x="430" class="k M">A</tspan><tspan x="452" class="c M">Q</tspan><tspan x="472" class="c M">Y</tspan><tspan x="492" class="r">D</tspan><tspan x="515" class="g s">G</tspan><tspan x="535" class="o s">S</tspan><tspan x="553" class="o M">S</tspan></text>
<text y="1323"><tspan x="52" class="b s">D</tspan><tspan x="76" class="o M">S</tspan><tspan x="98" class="b">F</tspan><tspan x="122" class="b s">F</tspan><tspan x="146" class="l s">L</tspan><tspan x="166" class="l">L</tspan><tspan x="188" class="g">G</tspan><tspan x="212" class="g">G</tspan><tspan x="234" class="r">D</tspan><tspan x="258" class="o">S</tspan><tspan x="282" class="l">I</tspan>
<tspan x="326" class="l s">L</tspan><tspan x="344" class="r s">E</tspan><tspan x="366" class="o s">S</tspan><tspan x="388" class="o s">S</tspan><tspan x="410" class="h">H</tspan><tspan x="430" class="k M">A</tspan><tspan x="452" class="l s">L</tspan><tspan x="472" class="k s">A</tspan><tspan x="492" class="r">D</tspan><tspan x="515" class="g s">G</tspan><tspan x="535" class="o s">S</tspan><tspan x="553" class="o">S</tspan></text>
<text y="1350"><tspan x="166" class="l M">L</tspan><tspan x="188" class="g">G</tspan><tspan x="212" class="l s">L</tspan><tspan x="234" class="r">D</tspan><tspan x="258" class="o">S</tspan><tspan x="282" class="l M">L</tspan>
<tspan x="410" class="h M">H</tspan><tspan x="430" class="k M">A</tspan><tspan x="452" class="l s">L</tspan><tspan x="472" class="b">Y</tspan><tspan x="492" class="r">D</tspan><tspan x="515" class="g s">G</tspan><tspan x="535" class="o s">S</tspan><tspan x="553" class="l s">L</tspan></text>
<text y="1377"><tspan x="52" class="r">D</tspan><tspan x="76" class="o s">S</tspan><tspan x="98" class="b">F</tspan><tspan x="122" class="b s">F</tspan><tspan x="146" class="l s">L</tspan><tspan x="166" class="l">L</tspan><tspan x="188" class="g">G</tspan><tspan x="212" class="g">G</tspan><tspan x="234" class="r">D</tspan><tspan x="258" class="o">S</tspan><tspan x="282" class="l M">I</tspan>
<tspan x="322" class="m s">W</tspan><tspan x="344" class="l s">I</tspan><tspan x="366" class="o s">S</tspan><tspan x="388" class="h">H</tspan><tspan x="410" class="h">H</tspan><tspan x="430" class="k M">A</tspan><tspan x="452" class="l s">L</tspan><tspan x="472" class="b">Y</tspan><tspan x="492" class="r">D</tspan><tspan x="515" class="g M">G</tspan><tspan x="535" class="m M">W</tspan><tspan x="553" class="o M">S</tspan></text>
<text y="1404"><tspan x="52" class="o s">S</tspan><tspan x="76" class="r s">D</tspan><tspan x="98" class="b">F</tspan><tspan x="122" class="l s">L</tspan><tspan x="146" class="l s">L</tspan><tspan x="166" class="l">L</tspan><tspan x="188" class="g">G</tspan><tspan x="212" class="g">G</tspan><tspan x="234" class="h">H</tspan><tspan x="258" class="o">S</tspan><tspan x="282" class="l M">L</tspan>
<tspan x="322" class="l s">V</tspan><tspan x="344" class="l s">Y</tspan><tspan x="366" class="y s">M</tspan><tspan x="388" class="o M">S</tspan><tspan x="410" class="h">H</tspan><tspan x="432" class="l M">L</tspan><tspan x="452" class="l">Y</tspan><tspan x="472" class="k s">A</tspan><tspan x="492" class="r">D</tspan><tspan x="515" class="l s">L</tspan><tspan x="535" class="o s">T</tspan><tspan x="553" class="l M">L</tspan></text>
</g>
<g font-size="15">
<text x="603" y="709" fill="#f00">E</text><text x="603" y="736" fill="#00f">E</text><text x="603" y="763" fill="#f00">LCL</text><text x="603" y="790" fill="#00f">LCL</text><text x="603" y="817" fill="#f00">SgcC5</text><text x="603" y="844" fill="#00f">SgcC5</text><text x="603" y="871" fill="#f00">DCL</text><text x="603" y="898" fill="#00f">DCL</text><text x="603" y="925" fill="#f00">Cyc</text><text x="603" y="952" fill="#00f">Cyc</text><text x="603" y="979" fill="#f00">Dual</text><text x="603" y="1006" fill="#00f">Dual</text><text x="603" y="1033" fill="#f00">Hybrid</text><text x="603" y="1060" fill="#00f">Hybrid</text>
<text x="603" y="1094" fill="#f00">Starter</text><text x="603" y="1121" fill="#f00">Cglyc</text><text x="603" y="1148" fill="#f00">modAA</text><text x="603" y="1175" fill="#f00">I</text><text x="603" y="1202" fill="#f00">bL</text><text x="603" y="1229" fill="#f00">PS</text><text x="603" y="1256" fill="#f00">X</text>
<text x="603" y="1289" fill="#00f">CT</text><text x="603" y="1316" fill="#00f">CT-DCL</text><text x="603" y="1343" fill="#00f">CT-A</text><text x="603" y="1370" fill="#00f">FUM14</text><text x="603" y="1397" fill="#00f">LCL-A</text>
</g>

<!-- ===== Panel E ===== -->
<g font-weight="bold" font-size="15"><text x="679" y="501">Frequent NRPS organization</text><text x="933" y="501">Example</text></g>
<rect x="672" y="508" width="596" height="902" fill="none" stroke="#000" stroke-width="2"/>
<line x1="672" y1="870" x2="1268" y2="870" stroke="#000" stroke-width="2"/>
<text x="1183" y="531" fill="#f00" class="cl" font-size="17">Bacteria</text>
<text x="1206" y="893" fill="#00f" class="cl" font-size="17">Fungi</text>

<g stroke="#000" stroke-width="1.3">
<!-- A domains -->
<g class="a">
<circle cx="706" cy="530" r="14"/><circle cx="790" cy="530" r="14"/>
<circle cx="706" cy="617" r="14"/><circle cx="790" cy="617" r="14"/><circle cx="850" cy="617" r="14"/>
<circle cx="706" cy="703" r="14"/><circle cx="786" cy="703" r="14"/><circle cx="856" cy="703" r="14"/>
<circle cx="728" cy="789" r="14"/><circle cx="786" cy="789" r="14"/><circle cx="845" cy="789" r="14"/><circle cx="945" cy="789" r="14"/><circle cx="1004" cy="789" r="14"/><circle cx="1063" cy="789" r="14"/><circle cx="1164" cy="789" r="14"/>
<circle cx="706" cy="893" r="14"/>
<circle cx="725" cy="983" r="14"/><circle cx="785" cy="983" r="14"/>
<circle cx="706" cy="1073" r="14"/><circle cx="765" cy="1073" r="14"/><circle cx="825" cy="1073" r="14"/>
<circle cx="706" cy="1163" r="14"/><circle cx="796" cy="1163" r="14"/><circle cx="855" cy="1163" r="14"/><circle cx="915" cy="1163" r="14"/>
<circle cx="706" cy="1253" r="14"/><circle cx="765" cy="1253" r="14"/>
<circle cx="706" cy="1342" r="14"/><circle cx="765" cy="1342" r="14"/><circle cx="823" cy="1342" r="14"/>
</g>
<!-- T domains -->
<g class="t">
<rect x="729" y="539" width="14" height="28" rx="6"/><rect x="798" y="539" width="14" height="28" rx="6"/>
<rect x="729" y="626" width="14" height="28" rx="6"/><rect x="798" y="626" width="14" height="28" rx="6"/><rect x="858" y="626" width="14" height="28" rx="6"/>
<rect x="733" y="713" width="14" height="28" rx="6"/><rect x="793" y="713" width="14" height="28" rx="6"/><rect x="894" y="713" width="14" height="28" rx="6"/>
<rect x="736" y="799" width="14" height="28" rx="6"/><rect x="794" y="799" width="14" height="28" rx="6"/><rect x="853" y="799" width="14" height="28" rx="6"/><rect x="953" y="799" width="14" height="28" rx="6"/><rect x="1012" y="799" width="14" height="28" rx="6"/><rect x="1072" y="799" width="14" height="28" rx="6"/><rect x="1173" y="799" width="14" height="28" rx="6"/>
<rect x="714" y="903" width="14" height="28" rx="6"/><rect x="761" y="903" width="14" height="28" rx="6"/>
<rect x="733" y="993" width="14" height="28" rx="6"/><rect x="822" y="993" width="14" height="28" rx="6"/><rect x="838" y="993" width="14" height="28" rx="6"/>
<rect x="714" y="1083" width="14" height="28" rx="6"/><rect x="774" y="1083" width="14" height="28" rx="6"/><rect x="833" y="1083" width="14" height="28" rx="6"/><rect x="880" y="1083" width="14" height="28" rx="6"/>
<rect x="714" y="1173" width="14" height="28" rx="6"/><rect x="804" y="1173" width="14" height="28" rx="6"/><rect x="863" y="1173" width="14" height="28" rx="6"/><rect x="923" y="1173" width="14" height="28" rx="6"/>
<rect x="714" y="1263" width="14" height="28" rx="6"/><rect x="774" y="1263" width="14" height="28" rx="6"/>
<rect x="714" y="1352" width="14" height="28" rx="6"/><rect x="773" y="1352" width="14" height="28" rx="6"/><rect x="832" y="1352" width="14" height="28" rx="6"/><rect x="879" y="1352" width="14" height="28" rx="6"/><rect x="926" y="1352" width="14" height="28" rx="6"/>
</g>
<!-- other domains -->
<circle cx="768" cy="553" r="14" fill="#0a4a9a"/><circle cx="828" cy="553" r="14" fill="#999"/>
<circle cx="768" cy="640" r="14" fill="#0a4a9a"/><circle cx="828" cy="640" r="14" fill="#0000ff"/><circle cx="888" cy="640" r="14" fill="#999"/>
<circle cx="763" cy="727" r="14" fill="#0a5c0a"/><circle cx="835" cy="727" r="14" fill="#0a5c0a"/><circle cx="877" cy="727" r="14" fill="#222"/><circle cx="924" cy="727" r="14" fill="#999"/><circle cx="966" cy="727" r="14" fill="#999"/>
<circle cx="706" cy="813" r="14" fill="#0a4a9a"/><circle cx="766" cy="813" r="14" fill="#2a8ee8"/><circle cx="824" cy="813" r="14" fill="#2a8ee8"/><circle cx="883" cy="813" r="14" fill="#e09090"/><circle cx="925" cy="813" r="14" fill="#f00"/><circle cx="984" cy="813" r="14" fill="#2a8ee8"/><circle cx="1042" cy="813" r="14" fill="#0000ff"/><circle cx="1101" cy="813" r="14" fill="#e09090"/><circle cx="1143" cy="813" r="14" fill="#f00"/><circle cx="1202" cy="813" r="14" fill="#999"/><circle cx="1248" cy="813" r="14" fill="#999"/>
<circle cx="745" cy="917" r="14" fill="#8c8cf0"/><circle cx="791" cy="917" r="14" fill="#8a2be2"/>
<circle cx="704" cy="1007" r="14" fill="#8c8cf0"/><circle cx="763" cy="1007" r="14" fill="#2a8ee8"/><circle cx="806" cy="1007" r="14" fill="#222"/><circle cx="868" cy="1007" r="14" fill="#8a2be2"/>
<circle cx="745" cy="1097" r="14" fill="#f00"/><circle cx="804" cy="1097" r="14" fill="#2a8ee8"/><circle cx="863" cy="1097" r="14" fill="#e09090"/><circle cx="909" cy="1097" r="14" fill="#999"/>
<circle cx="744" cy="1187" r="14" fill="#e09090"/><circle cx="776" cy="1187" r="14" fill="#ff1493"/><circle cx="835" cy="1187" r="14" fill="#8c8cf0"/><circle cx="894" cy="1187" r="14" fill="#8c8cf0"/><circle cx="954" cy="1187" r="14" fill="#ff1493"/>
<circle cx="745" cy="1277" r="14" fill="#8c8cf0"/><circle cx="804" cy="1277" r="14" fill="#999"/>
<circle cx="745" cy="1366" r="14" fill="#6e6478"/><circle cx="803" cy="1366" r="14" fill="#6e6478"/><circle cx="862" cy="1366" r="14" fill="#6e6478"/><circle cx="909" cy="1366" r="14" fill="#6e6478"/>
</g>
<!-- domain letters -->
<g font-size="12" text-anchor="middle">
<g fill="#000">
<text x="706" y="534">A</text><text x="790" y="534">A</text><text x="706" y="621">A</text><text x="790" y="621">A</text><text x="850" y="621">A</text><text x="706" y="707">A</text><text x="786" y="707">A</text><text x="856" y="707">A</text>
<text x="728" y="793">A</text><text x="786" y="793">A</text><text x="845" y="793">A</text><text x="945" y="793">A</text><text x="1004" y="793">A</text><text x="1063" y="793">A</text><text x="1164" y="793">A</text>
<text x="706" y="897">A</text><text x="725" y="987">A</text><text x="785" y="987">A</text><text x="706" y="1077">A</text><text x="765" y="1077">A</text><text x="825" y="1077">A</text>
<text x="706" y="1167">A</text><text x="796" y="1167">A</text><text x="855" y="1167">A</text><text x="915" y="1167">A</text><text x="706" y="1257">A</text><text x="765" y="1257">A</text>
<text x="706" y="1346">A</text><text x="765" y="1346">A</text><text x="823" y="1346">A</text>
<text x="736" y="557">T</text><text x="805" y="557">T</text><text x="736" y="644">T</text><text x="805" y="644">T</text><text x="865" y="644">T</text><text x="740" y="731">T</text><text x="800" y="731">T</text><text x="901" y="731">T</text>
<text x="743" y="817">T</text><text x="801" y="817">T</text><text x="860" y="817">T</text><text x="960" y="817">T</text><text x="1019" y="817">T</text><text x="1079" y="817">T</text><text x="1180" y="817">T</text>
<text x="721" y="921">T</text><text x="768" y="921">T</text><text x="740" y="1011">T</text><text x="829" y="1011">T</text><text x="845" y="1011">T</text>
<text x="721" y="1101">T</text><text x="781" y="1101">T</text><text x="840" y="1101">T</text><text x="887" y="1101">T</text>
<text x="721" y="1191">T</text><text x="811" y="1191">T</text><text x="870" y="1191">T</text><text x="930" y="1191">T</text><text x="721" y="1281">T</text><text x="781" y="1281">T</text>
<text x="828" y="557">TE</text><text x="888" y="644">TE</text><text x="924" y="731">TE</text><text x="966" y="731">TE</text><text x="1202" y="817">TE</text><text x="1248" y="817">TE</text><text x="909" y="1101">TE</text><text x="804" y="1281">TD</text>
</g>
<g fill="#000" font-size="8">
<text transform="translate(718 1366) rotate(90)">ACP</text><text transform="translate(777 1366) rotate(90)">ACP</text><text transform="translate(836 1366) rotate(90)">ACP</text><text transform="translate(883 1366) rotate(90)">ACP</text><text transform="translate(930 1366) rotate(90)">ACP</text>
</g>
<g fill="#fff">
<text x="768" y="557">C</text><text x="768" y="644">C</text><text x="828" y="644">C</text><text x="763" y="731">C</text><text x="835" y="731">C</text><text x="877" y="731" font-weight="bold">MT</text>
<text x="706" y="817">C</text><text x="766" y="817">C</text><text x="824" y="817">C</text><text x="883" y="817">E</text><text x="925" y="817">C</text><text x="984" y="817">C</text><text x="1042" y="817">C</text><text x="1101" y="817">E</text><text x="1143" y="817">C</text>
<text x="745" y="921">C</text><text x="791" y="921">C</text><text x="704" y="1011">C</text><text x="763" y="1011">C</text><text x="806" y="1011" font-weight="bold">MT</text><text x="868" y="1011">C</text>
<text x="745" y="1101">C</text><text x="804" y="1101">C</text><text x="863" y="1101">E</text>
<text x="744" y="1191">E</text><text x="776" y="1191">C</text><text x="835" y="1191">C</text><text x="894" y="1191">C</text><text x="954" y="1191">C</text><text x="745" y="1281">C</text>
<text x="745" y="1370">C</text><text x="803" y="1370">C</text><text x="862" y="1370">C</text><text x="909" y="1370">C</text>
</g>
</g>
<!-- E labels -->
<g font-weight="bold" font-size="15">
<text x="740" y="585" fill="#0a4a9a">Starter*</text>
<text x="740" y="672" fill="#0a4a9a">Starter*</text><text x="812" y="672" fill="#0000ff">LCL</text>
<text x="750" y="758" fill="#0a5c0a">Cyc</text><text x="821" y="758" fill="#0a5c0a">Cyc</text>
<text x="678" y="844" fill="#0a4a9a">Starter*</text><text x="742" y="844" fill="#2a8ee8">SgcC5</text><text x="800" y="844" fill="#2a8ee8">SgcC5</text><text x="908" y="844" fill="#f00">DCL</text><text x="959" y="844" fill="#2a8ee8">SgcC5</text><text x="1026" y="844" fill="#0000ff">LCL</text><text x="1127" y="844" fill="#f00">DCL</text>
<text x="721" y="951" fill="#8c8cf0" text-decoration="underline">FUM14</text><text x="780" y="951" fill="#8a2be2" text-decoration="underline">CT</text>
<text x="678" y="1041" fill="#8c8cf0" text-decoration="underline">FUM14</text><text x="739" y="1041" fill="#2a8ee8">SgcC5</text><text x="857" y="1041" fill="#8a2be2" text-decoration="underline">CT</text>
<text x="731" y="1129" fill="#f00">DCL</text><text x="780" y="1129" fill="#2a8ee8">SgcC5</text>
<text x="745" y="1220" fill="#ff1493" text-decoration="underline">CT-DCL</text><text x="812" y="1220" fill="#8c8cf0" text-decoration="underline">FUM14</text><text x="870" y="1220" fill="#8c8cf0" text-decoration="underline">FUM14</text><text x="929" y="1220" fill="#ff1493" text-decoration="underline">CT-DCL</text>
<text x="718" y="1310" fill="#8c8cf0" text-decoration="underline">FUM14</text>
<text x="726" y="1398" fill="#6e6478" text-decoration="underline">CT-A</text><text x="785" y="1398" fill="#6e6478" text-decoration="underline">CT-A</text><text x="844" y="1398" fill="#6e6478" text-decoration="underline">CT-A</text><text x="892" y="1398" fill="#6e6478" text-decoration="underline">CT-A</text>
</g>
<g font-size="15">
<text x="877" y="557">Enterobactin synthetase</text>
<text x="937" y="644">Bacillibactin synthetase</text>
<text x="1011" y="731">Pyochelin synthetase</text>
<text x="1024" y="863">Surfactin/lichenysin synthetases</text>
<text x="840" y="922">Depsipeptide or coprogen synthetases</text>
<text x="915" y="1012">Enniatin/bassianolide/beauvericin synthetases</text>
<text x="957" y="1102">Penicillin synthetase</text>
<text x="1010" y="1191">HC-toxin synthetase</text>
<text x="850" y="1281">Asperphenamate synthetase</text>
<text x="973" y="1370">Ferrichrome/Epichloenin A synthetases</text>
</g>
</svg>
</body></html>
